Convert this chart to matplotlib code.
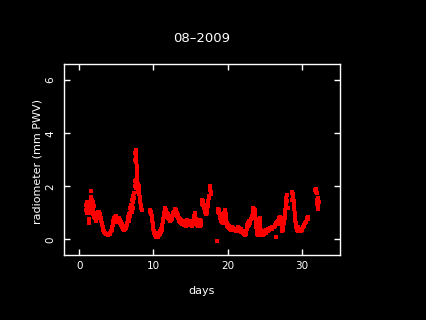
import matplotlib
matplotlib.use("Agg")
import matplotlib.pyplot as plt

# radiometer PWV readings
DAYS_1 = [0.90, 0.95, 1.00, 1.05, 1.10, 1.15, 1.20, 1.25, 1.30, 1.33, 1.38, 1.42, 1.48,
          1.55, 1.60, 1.65, 1.70, 1.75, 1.80, 1.85, 1.90, 1.95, 2.00, 2.05, 2.10, 2.15,
          2.20, 2.25, 2.30, 2.35, 2.40, 2.45, 2.50, 2.55, 2.60, 2.65, 2.70, 2.75, 2.80,
          2.85, 2.90, 2.95, 3.00, 3.05, 3.10, 3.15, 3.20, 3.25, 3.30, 3.40, 3.50, 3.60,
          3.70, 3.80, 3.90, 4.00, 4.10, 4.20, 4.30, 4.40, 4.45, 4.50, 4.55, 4.60, 4.65,
          4.70, 4.75, 4.80, 4.85, 4.90, 4.95, 5.00, 5.05, 5.10, 5.15, 5.20, 5.25, 5.30,
          5.35, 5.40, 5.45, 5.50, 5.55, 5.60, 5.65, 5.70, 5.75, 5.80, 5.85, 5.90, 5.95,
          6.00, 6.05, 6.10, 6.15, 6.20, 6.25, 6.30, 6.40, 6.50, 6.55, 6.60, 6.65, 6.70,
          6.75, 6.80, 6.85, 6.90, 6.95, 7.00, 7.05, 7.10, 7.15, 7.20, 7.25, 7.30, 7.35,
          7.40, 7.45, 7.50, 7.52, 7.55, 7.58, 7.60, 7.62, 7.65, 7.68, 7.70, 7.70, 7.72,
          7.75, 7.75, 7.78, 7.80, 7.82, 7.85, 7.88, 7.90, 7.95, 8.00, 8.05, 8.10, 8.15,
          8.20, 8.25, 8.30, 8.35, 8.40]
PWV_1 = [1.10, 1.30, 1.00, 1.20, 1.40, 1.05, 1.25, 1.35, 0.75, 0.60, 1.15, 1.30, 1.00,
         1.45, 1.60, 1.83, 1.50, 1.20, 1.40, 1.10, 0.95, 1.25, 0.90, 0.85, 1.00, 0.80,
         0.75, 0.95, 0.70, 0.80, 0.90, 1.00, 1.05, 0.95, 1.05, 1.00, 0.90, 0.95, 0.85,
         0.95, 0.80, 0.70, 0.75, 0.60, 0.55, 0.45, 0.40, 0.35, 0.30, 0.28, 0.25, 0.22,
         0.20, 0.22, 0.18, 0.22, 0.20, 0.25, 0.30, 0.35, 0.45, 0.55, 0.60, 0.70, 0.65,
         0.75, 0.80, 0.85, 0.80, 0.88, 0.75, 0.70, 0.65, 0.72, 0.68, 0.75, 0.70, 0.65,
         0.78, 0.82, 0.70, 0.72, 0.62, 0.65, 0.55, 0.58, 0.50, 0.48, 0.42, 0.45, 0.40,
         0.38, 0.35, 0.40, 0.45, 0.48, 0.42, 0.50, 0.55, 0.60, 0.75, 0.85, 0.70, 0.95,
         0.80, 1.00, 1.20, 0.90, 1.10, 1.30, 1.05, 1.25, 1.50, 1.20, 1.40, 1.65, 1.75,
         1.55, 2.00, 2.20, 3.00, 3.25, 2.05, 3.35, 2.25, 3.20, 3.05, 2.90, 1.95, 2.75,
         2.60, 2.15, 2.45, 2.30, 2.15, 2.00, 2.10, 1.90, 1.80, 2.00, 1.70, 1.85, 1.55,
         1.40, 1.60, 1.30, 1.20, 1.10]

DAYS_2 = [9.50, 9.55, 9.60, 9.65, 9.70, 9.75, 9.80, 9.85, 9.90, 9.95, 10.00, 10.05,
          10.10, 10.15, 10.20, 10.25, 10.30, 10.35, 10.40, 10.45, 10.50, 10.55, 10.60,
          10.65, 10.70, 10.75, 10.80, 10.85, 10.90, 10.95, 11.00, 11.05, 11.10, 11.15,
          11.20, 11.25, 11.30, 11.35, 11.40, 11.45, 11.50, 11.55, 11.60, 11.65, 11.70,
          11.75, 11.80, 11.85, 11.90, 11.95, 12.00, 12.05, 12.10, 12.15, 12.20, 12.25,
          12.30, 12.35, 12.40, 12.45, 12.50, 12.55, 12.60, 12.65, 12.70, 12.75, 12.80,
          12.85, 12.90, 12.95, 13.00, 13.05, 13.10, 13.15, 13.20, 13.25, 13.30, 13.35,
          13.40, 13.45, 13.50, 13.55, 13.60, 13.65, 13.70, 13.75, 13.80, 13.85, 13.90,
          14.00, 14.10, 14.15, 14.20, 14.30, 14.35, 14.40, 14.50, 14.55, 14.60, 14.70,
          14.80, 14.85, 14.90, 15.00, 15.05, 15.10, 15.20, 15.25, 15.30, 15.40, 15.45,
          15.50, 15.55, 15.60, 15.65, 15.70, 15.75, 15.80, 15.85, 15.90, 15.95, 16.00,
          16.05, 16.10, 16.15, 16.20, 16.25, 16.30, 16.35, 16.40, 16.45, 16.50, 16.55,
          16.60, 16.65, 16.70, 16.75, 16.80, 16.85, 16.90, 16.95, 17.00, 17.05, 17.10,
          17.15, 17.20, 17.25, 17.30, 17.35, 17.40, 17.45, 17.50, 17.55, 17.60, 17.65,
          17.70, 17.75]
PWV_2 = [1.05, 1.10, 0.95, 1.00, 1.05, 0.90, 0.80, 0.70, 0.60, 0.50, 0.40, 0.30,
         0.25, 0.20, 0.15, 0.25, 0.10, 0.18, 0.08, 0.15, 0.12, 0.20, 0.10,
         0.18, 0.25, 0.15, 0.22, 0.30, 0.20, 0.35, 0.28, 0.40, 0.35, 0.45,
         0.55, 0.65, 0.75, 0.85, 0.95, 1.00, 1.10, 1.05, 1.18, 1.12, 1.05,
         0.95, 1.00, 0.90, 0.85, 0.95, 0.80, 0.90, 0.75, 0.85, 0.70, 0.78,
         0.72, 0.80, 0.85, 0.78, 0.90, 0.85, 0.95, 1.00, 0.92, 1.05, 1.00,
         1.10, 1.05, 1.15, 1.10, 1.05, 0.95, 1.00, 0.90, 0.85, 0.92, 0.80,
         0.75, 0.82, 0.70, 0.78, 0.65, 0.72, 0.68, 0.60, 0.70, 0.65, 0.58,
         0.62, 0.55, 0.65, 0.70, 0.60, 0.52, 0.68, 0.62, 0.72, 0.55, 0.65,
         0.58, 0.70, 0.62, 0.55, 0.68, 0.60, 0.50, 0.65, 0.58, 0.70, 0.80,
         0.90, 0.98, 0.85, 0.95, 0.75, 0.65, 0.70, 0.55, 0.62, 0.50, 0.58,
         0.70, 0.55, 0.65, 0.72, 0.60, 0.50, 0.62, 0.70, 0.55, 1.35, 1.50,
         1.45, 1.30, 1.40, 1.25, 1.30, 1.20, 1.15, 1.10, 1.05, 1.00, 0.95,
         1.05, 1.00, 1.15, 1.25, 1.35, 1.45, 1.55, 1.65, 1.85, 1.95, 2.00,
         1.80, 1.70]

DAYS_3 = [18.60, 18.70, 18.75, 18.80, 18.85, 18.90, 18.95, 19.00, 19.05, 19.10, 19.15,
          19.20, 19.25, 19.30, 19.35, 19.40, 19.45, 19.50, 19.55, 19.60, 19.65, 19.70,
          19.75, 19.80, 19.85, 19.90, 19.95, 20.00, 20.05, 20.10, 20.15, 20.20, 20.25,
          20.30, 20.35, 20.40, 20.50, 20.55, 20.60, 20.70, 20.75, 20.80, 20.90, 21.00,
          21.05, 21.10, 21.20, 21.25, 21.30, 21.40, 21.45, 21.50, 21.60, 21.70, 21.75,
          21.80, 21.90, 22.00, 22.10, 22.20, 22.30, 22.40, 22.45, 22.50, 22.55, 22.60,
          22.65, 22.70, 22.75, 22.80, 22.85, 22.90, 22.95, 23.00, 23.10, 23.20, 23.30,
          23.35, 23.40, 23.45, 23.50, 23.55, 23.60, 23.65, 23.70, 23.75, 23.80, 23.85,
          23.90, 23.95, 24.00, 24.05, 24.10, 24.15, 24.20, 24.25, 24.30, 24.35, 24.40,
          24.45, 24.50, 24.55, 24.60, 24.65, 24.70, 24.75, 24.80, 24.85, 24.90, 24.95,
          25.00, 25.10, 25.15, 25.20, 25.30, 25.40, 25.45, 25.50, 25.60, 25.70, 25.80,
          25.90, 26.00, 26.10, 26.20, 26.30, 26.40, 26.50, 26.55, 26.60, 26.70, 26.75,
          26.80, 26.90, 26.95, 27.00, 27.05, 27.10, 27.15, 27.20, 27.25, 27.30, 27.35,
          27.40, 27.45, 27.50, 27.55, 27.60, 27.65, 27.70, 27.75, 27.80, 27.85, 27.90,
          27.95, 28.00, 28.05, 28.60, 28.65, 28.70, 28.75, 28.80, 28.85, 28.90, 28.95,
          29.00, 29.05, 29.10, 29.15, 29.20, 29.25, 29.30, 29.35, 29.40, 29.50, 29.55,
          29.60, 29.70, 29.75, 29.80, 29.90, 30.00, 30.05, 30.10, 30.20, 30.30, 30.40,
          30.50, 30.60, 30.70, 30.80, 30.85]
PWV_3 = [-0.05, 1.05, 1.15, 1.00, 1.10, 0.90, 0.95, 0.80, 0.85, 0.70, 0.78,
         0.65, 0.72, 0.60, 0.68, 0.75, 0.80, 0.90, 1.00, 1.10, 1.05, 0.95,
         0.80, 0.70, 0.60, 0.55, 0.50, 0.55, 0.45, 0.50, 0.42, 0.48, 0.40,
         0.45, 0.38, 0.42, 0.35, 0.40, 0.45, 0.38, 0.42, 0.35, 0.40, 0.38,
         0.30, 0.35, 0.40, 0.32, 0.38, 0.45, 0.38, 0.42, 0.35, 0.30, 0.38,
         0.28, 0.32, 0.25, 0.28, 0.22, 0.18, 0.20, 0.25, 0.30, 0.40, 0.50,
         0.55, 0.60, 0.50, 0.65, 0.55, 0.70, 0.60, 0.68, 0.75, 0.80, 0.90,
         1.00, 1.10, 1.20, 1.15, 1.05, 0.95, 1.10, 0.85, 0.70, 0.55, 0.45,
         0.35, 0.25, 0.20, 0.15, 0.30, 0.45, 0.60, 0.75, 0.80, 0.65, 0.50,
         0.35, 0.25, 0.20, 0.15, 0.25, 0.18, 0.30, 0.22, 0.28, 0.20, 0.30,
         0.25, 0.32, 0.25, 0.35, 0.30, 0.38, 0.30, 0.40, 0.35, 0.42, 0.38,
         0.45, 0.40, 0.48, 0.45, 0.50, 0.55, 0.08, 0.60, 0.65, 0.58, 0.70,
         0.65, 0.75, 0.80, 0.85, 0.75, 0.70, 0.80, 0.60, 0.45, 0.35, 0.30,
         0.40, 0.50, 0.35, 0.60, 0.70, 0.80, 0.95, 1.10, 1.25, 1.40, 1.55,
         1.67, 1.45, 1.20, 1.50, 1.80, 1.75, 1.60, 1.70, 1.45, 1.30, 1.15,
         1.00, 0.85, 0.70, 0.60, 0.50, 0.45, 0.40, 0.35, 0.45, 0.30, 0.40,
         0.35, 0.30, 0.40, 0.35, 0.30, 0.40, 0.35, 0.45, 0.55, 0.50, 0.60,
         0.65, 0.75, 0.80, 0.85, 0.78]

DAYS_4 = [31.80, 31.85, 31.90, 31.95, 32.00, 32.05, 32.10, 32.15, 32.20, 32.25]
PWV_4 = [1.85, 1.80, 1.90, 1.75, 1.50, 1.35, 1.55, 1.25, 1.15, 1.40]

SEGMENTS = [(DAYS_1, PWV_1), (DAYS_2, PWV_2), (DAYS_3, PWV_3), (DAYS_4, PWV_4)]

X_TICKS = [0, 10, 20, 30]
Y_TICKS = [0, 2, 4, 6]

FG = "white"
BG = "black"

fig = plt.figure(figsize=(4.26, 3.2), dpi=100)
fig.patch.set_facecolor(BG)
ax = fig.add_axes([0.150, 0.203, 0.648, 0.597])
ax.set_facecolor(BG)

for days, pwv in SEGMENTS:
    ax.plot(days, pwv, linestyle="none", marker="s", markersize=2.6,
            markeredgewidth=0, color="#ff0000")

ax.set_xlim(-2.06, 35.1)
ax.set_ylim(-0.59, 6.61)
ax.set_xticks(X_TICKS)
ax.set_yticks(Y_TICKS)
ax.set_yticklabels([str(t) for t in Y_TICKS], rotation=90, va="center")

ax.tick_params(direction="in", top=True, right=True, length=4.3, width=1,
               colors=FG, labelsize=7.5)
ax.tick_params(axis="x", pad=4)
ax.tick_params(axis="y", pad=6)
for s in ax.spines.values():
    s.set_color(FG)
    s.set_linewidth(1)

fig.text(202 / 426, 1 - 38 / 320, "08\u20132009", ha="center", va="center",
         color=FG, fontsize=9.5)
fig.text(202 / 426, 1 - 291 / 320, "days", ha="center", va="center",
         color=FG, fontsize=8)
fig.text(37 / 426, 1 - 161 / 320, "radiometer (mm PWV)", ha="center",
         va="center", rotation=90, color=FG, fontsize=8)

fig.savefig("out.png", dpi=100, facecolor=BG)
